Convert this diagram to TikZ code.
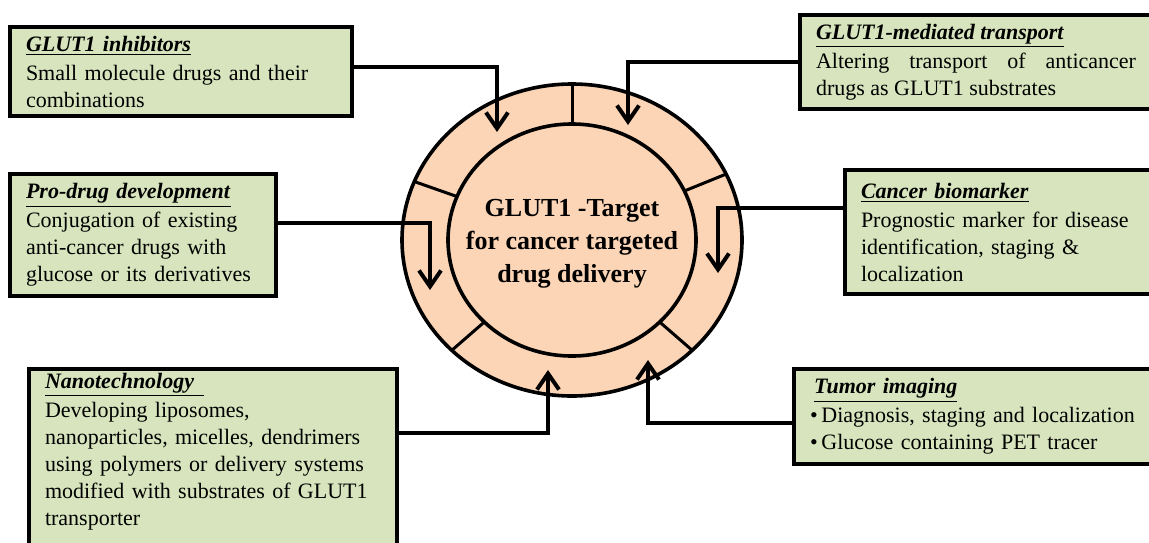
\documentclass[tikz,border=0pt]{standalone}
\usepackage{fontspec}
\setmainfont{Liberation Serif}
\usetikzlibrary{positioning,calc,arrows.meta}

\definecolor{boxgreen}{RGB}{215,228,189}
\definecolor{ringpeach}{RGB}{251,213,181}
\newcommand{\boxhead}[1]{\underline{\textbf{\textit{#1}}}\\[1pt]}

\begin{document}
\begin{tikzpicture}[x=0.5pt, y=-0.5pt,
    >={Straight Barb[length=8pt,width=11pt]},
    box/.style={
      draw, fill=boxgreen, rectangle, line width=2.2pt, anchor=north west,
      outer sep=0pt, inner xsep=8pt, inner ysep=0pt, align=left,
      font=\fontsize{11}{13.5}\selectfont
    },
    ring/.style={draw, line width=1.8pt},
    sep/.style={draw, line width=1.5pt},
    link/.style={->, line width=2pt}
  ]
  \useasboundingbox (0,0) rectangle (1149,542);
  \clip (0,0) rectangle (1149,542);

  % ===== Central ring =====
  \coordinate (hub) at (572,240);
  \path[ring, fill=ringpeach] (hub) ellipse [x radius=85pt, y radius=78pt];
  \foreach \t in {90,158,25,225,315}
    \draw[sep] ($(hub)+(\t:62pt and 58pt)$) -- ($(hub)+(\t:85pt and 78pt)$);
  \path[ring, fill=ringpeach] (hub) ellipse [x radius=62pt, y radius=58pt];
  \node[font=\bfseries\fontsize{13}{16.5}\selectfont, align=center] (core) at (572,244)
    {GLUT1 -Target\\for cancer targeted\\drug delivery};

  % ===== Left boxes =====
  \node[box, minimum width=171pt, minimum height=44.5pt, text width=155pt] (inhib) at (10,27) {
    \boxhead{GLUT1 inhibitors}
    Small molecule drugs and their\\
    combinations
  };
  \node[box, minimum width=133pt, minimum height=61pt, text width=117pt] (prodrug) at (10,174) {
    \boxhead{Pro-drug development}
    Conjugation of existing\\
    anti-cancer drugs with\\
    glucose or its derivatives
  };
  % bottom edge runs off the page, so an empty last line stretches it
  \node[box, minimum width=184pt, text width=168pt, inner ysep=2pt] (nano) at (29,369) {
    \underline{\textbf{\textit{Nanotechnology}}\hspace{5pt}}\\[1pt]
    Developing liposomes,\\
    nanoparticles, micelles, dendrimers\\
    using polymers or delivery systems\\
    modified with substrates of GLUT1\\
    transporter\\
    \mbox{}
  };

  % ===== Right boxes =====
  \node[box, minimum width=176pt, minimum height=47pt, text width=160pt, align=justify] (trans) at (800,15) {
    \boxhead{GLUT1-mediated transport}
    Altering transport of anticancer drugs as GLUT1 substrates
  };
  \node[box, minimum width=158pt, minimum height=62pt, text width=142pt] (marker) at (845,170) {
    \boxhead{Cancer biomarker}
    Prognostic marker for disease\\
    identification, staging \&\\
    localization
  };
  \node[box, minimum width=183pt, minimum height=47.5pt, text width=167pt] (imaging) at (794,369) {
    \hspace*{2pt}\boxhead{Tumor imaging}
    \textbullet\,Diagnosis, staging and localization\\
    \textbullet\,Glucose containing PET tracer
  };

  % ===== Arrow tips on the ring =====
  \coordinate (tipA) at (497,132);
  \coordinate (tipB) at (628,125);
  \coordinate (tipC) at (430,290);
  \coordinate (tipD) at (718,273);
  \coordinate (tipE) at (548,370);
  \coordinate (tipF) at (648,360);

  % Connectors
  \draw[link] ([yshift=2.25pt]inhib.east) -| (tipA);
  \draw[link] (trans.west) -| (tipB);
  \draw[link] ([yshift=6pt]prodrug.east) -| (tipC);
  \draw[link] ([yshift=12pt]marker.west) -| (tipD);
  \draw[link] ([yshift=-32pt]nano.north east) -| (tipE);
  \draw[link] ([yshift=-3.25pt]imaging.west) -| (tipF);

\end{tikzpicture}
\end{document}
